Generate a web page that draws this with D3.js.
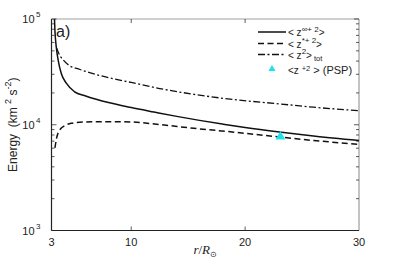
<!DOCTYPE html>
<html>
<head>
<meta charset="utf-8">
<script src="https://cdn.jsdelivr.net/npm/d3@7"></script>
<style>
  body { margin: 0; background: #fff; }
  svg text { font-family: "Liberation Sans", Arial, sans-serif; fill: #222; white-space: pre; }
</style>
</head>
<body>
<svg id="chart"></svg>
<script>
const width = 397;
const height = 266;
const margins = { left: 51.5, right: 38, top: 19, bottom: 35.5 };

// solid: <z∞+ 2>
const solidR = [3.22, 3.3, 3.42, 3.6, 3.86, 4.3, 5, 6, 7, 8, 10, 12, 14, 16, 18, 20, 23, 26, 30];
const solidE = [1.3e5, 7.8e4, 5.4e4, 4.0e4, 3.05e4, 2.47e4, 2.06e4, 1.87e4, 1.73e4, 1.62e4, 1.455e4, 1.32e4, 1.2e4, 1.1e4, 1.016e4, 9.42e3, 8.54e3, 7.83e3, 7.1e3];

// dashed: <z*+ 2>
const dashR = [3.3, 3.45, 3.72, 4.2, 4.73, 6, 8, 10, 12.5, 15.5, 17.7, 20, 23, 26, 30];
const dashE = [6.03e3, 7.5e3, 8.92e3, 9.84e3, 1.032e4, 1.062e4, 1.069e4, 1.062e4, 1.005e4, 9.25e3, 8.79e3, 8.3e3, 7.66e3, 7.1e3, 6.53e3];

// dash-dot: <z^2>_tot
const totR = [3.45, 3.7, 4.0, 4.44, 5.5, 6.5, 7.25, 8.1, 10, 12.5, 15.5, 19, 22.6, 26, 30];
const totE = [5.32e4, 4.57e4, 4.14e4, 3.71e4, 3.33e4, 3.08e4, 2.92e4, 2.77e4, 2.51e4, 2.2e4, 1.94e4, 1.73e4, 1.59e4, 1.466e4, 1.358e4];

// PSP point
const pspR = [23.1];
const pspE = [7.9e3];

const xTicks = [3, 10, 20, 30];
const yTicks = [1e3, 1e4, 1e5];

const svg = d3.select('#chart')
    .attr('width', width)
    .attr('height', height);

const x = d3.scaleLinear()
    .domain([3, 30])
    .range([margins.left, width - margins.right]);

const y = d3.scaleLog()
    .domain([1e3, 1e5])
    .range([height - margins.bottom, margins.top]);

svg.append('defs').append('clipPath')
    .attr('id', 'plot')
  .append('rect')
    .attr('x', margins.left)
    .attr('y', margins.top)
    .attr('width', width - margins.left - margins.right)
    .attr('height', height - margins.top - margins.bottom);

const x0 = margins.left, x1 = width - margins.right;
const y0 = height - margins.bottom, y1 = margins.top;

// frame: top and right in grey
svg.append('line').attr('x1', x0).attr('x2', x1).attr('y1', y1).attr('y2', y1)
    .attr('stroke', '#a0a0a0').attr('stroke-width', 1.2);
svg.append('line').attr('x1', x1).attr('x2', x1).attr('y1', y1).attr('y2', y0)
    .attr('stroke', '#888').attr('stroke-width', 1);

// minor log ticks
const minor = [];
for (const d of [1e3, 1e4]) for (let k = 2; k <= 9; k++) minor.push(d * k);

const ticks = svg.append('g').attr('stroke', '#333').attr('stroke-width', 0.8);
minor.forEach(v => {
  ticks.append('line').attr('x1', x0).attr('x2', x0 + 3).attr('y1', y(v)).attr('y2', y(v));
  ticks.append('line').attr('x1', x1).attr('x2', x1 - 3).attr('y1', y(v)).attr('y2', y(v));
});
yTicks.forEach(v => {
  ticks.append('line').attr('x1', x0).attr('x2', x0 + 5).attr('y1', y(v)).attr('y2', y(v));
  ticks.append('line').attr('x1', x1).attr('x2', x1 - 5).attr('y1', y(v)).attr('y2', y(v));
});
xTicks.slice(1, -1).forEach(v => {
  ticks.append('line').attr('x1', x(v)).attr('x2', x(v)).attr('y1', y0).attr('y2', y0 - 4);
  ticks.append('line').attr('x1', x(v)).attr('x2', x(v)).attr('y1', y1).attr('y2', y1 + 4);
});

// left and bottom axis lines
svg.append('line').attr('x1', x0).attr('x2', x0).attr('y1', y1).attr('y2', y0)
    .attr('stroke', '#222').attr('stroke-width', 1.2);
svg.append('line').attr('x1', x0).attr('x2', x1).attr('y1', y0).attr('y2', y0)
    .attr('stroke', '#222').attr('stroke-width', 1.2);

// tick labels
svg.append('g').selectAll('text').data(xTicks).join('text')
    .attr('x', d => x(d))
    .attr('y', y0 + 15)
    .attr('text-anchor', 'middle')
    .attr('font-size', 11)
    .text(d => d);

const yl = svg.append('g').selectAll('text').data(yTicks).join('text')
    .attr('x', x0 - 11)
    .attr('y', d => y(d) + 4)
    .attr('text-anchor', 'end')
    .attr('font-size', 11);
yl.append('tspan').text('10');
yl.append('tspan').attr('font-size', 8).attr('dx', 1.5).attr('dy', -6).text(d => Math.log10(d));

// axis titles
const ylab = svg.append('text')
    .attr('transform', `translate(17, ${(y0 + y1) / 2}) rotate(-90)`)
    .attr('text-anchor', 'middle')
    .attr('font-size', 12);
ylab.append('tspan').text('Energy  (km ');
ylab.append('tspan').attr('font-size', 9).attr('dy', -6).text('2');
ylab.append('tspan').attr('dy', 6).text(' s');
ylab.append('tspan').attr('font-size', 9).attr('dy', -6).text('-2');
ylab.append('tspan').attr('dy', 6).text(')');

const xlab = svg.append('text')
    .attr('x', (x0 + x1) / 2)
    .attr('y', 254)
    .attr('text-anchor', 'middle')
    .attr('font-style', 'italic')
    .attr('font-size', 13)
    .style('font-family', '"Liberation Serif", serif');
xlab.append('tspan').text('r');
xlab.append('tspan').attr('font-style', 'normal').text('/');
xlab.append('tspan').text('R');
xlab.append('tspan').attr('font-style', 'normal').attr('font-size', 8).attr('dy', 3).text('⊙');

// lines
const line = d3.line()
    .x(d => x(d[0]))
    .y(d => y(d[1]))
    .curve(d3.curveMonotoneX);

const plot = svg.append('g').attr('clip-path', 'url(#plot)');

plot.append('path')
    .datum(d3.zip(totR, totE))
    .attr('d', line)
    .attr('fill', 'none')
    .attr('stroke', '#111')
    .attr('stroke-width', 1.3)
    .attr('stroke-dasharray', '7,2.5,2,2.5');

plot.append('path')
    .datum(d3.zip(dashR, dashE))
    .attr('d', line)
    .attr('fill', 'none')
    .attr('stroke', '#111')
    .attr('stroke-width', 1.5)
    .attr('stroke-dasharray', '6,3.5');

plot.append('path')
    .datum(d3.zip(solidR, solidE))
    .attr('d', line)
    .attr('fill', 'none')
    .attr('stroke', '#111')
    .attr('stroke-width', 1.5);

const tri = d3.symbol().type(d3.symbolTriangle).size(42);
plot.selectAll('.psp').data(d3.zip(pspR, pspE)).join('path')
    .attr('class', 'psp')
    .attr('transform', d => `translate(${x(d[0])}, ${y(d[1]) + 1})`)
    .attr('d', tri)
    .attr('fill', '#22e0e8');

// panel label
svg.append('text')
    .attr('x', 56)
    .attr('y', 37)
    .attr('font-size', 16)
    .text('a)');

// legend
const lg = svg.append('g').attr('font-size', 10);
const lx = 258, lw = 28, tx = 288;
const rows = [
  { y: 32, dash: null, sup: '∞+ 2', sub: null, pre: '< z', post: '>' },
  { y: 43.5, dash: '6,3.5', sup: '*+ 2', sub: null, pre: '< z', post: '>' },
  { y: 54.5, dash: '7,2.5,2,2.5', sup: '2', sub: 'tot', pre: '< z', post: '>' }
];
rows.forEach(r => {
  lg.append('line')
      .attr('x1', lx).attr('x2', lx + lw)
      .attr('y1', r.y).attr('y2', r.y)
      .attr('stroke', '#111')
      .attr('stroke-width', r.dash && r.dash.length > 5 ? 1.3 : 1.5)
      .attr('stroke-dasharray', r.dash);
  const t = lg.append('text').attr('x', tx).attr('y', r.y + 4);
  t.append('tspan').text(r.pre);
  t.append('tspan').attr('font-size', 8).attr('dy', -4.5).text(r.sup);
  t.append('tspan').attr('dy', 4.5).text(r.post);
  if (r.sub) t.append('tspan').attr('font-size', 7.5).attr('dx', 2).attr('dy', 2.5).text(r.sub);
});
lg.append('path')
    .attr('transform', 'translate(272, 69)')
    .attr('d', d3.symbol().type(d3.symbolTriangle).size(22))
    .attr('fill', '#22e0e8');
const pt = lg.append('text').attr('x', tx).attr('y', 74);
pt.append('tspan').text('<z ');
pt.append('tspan').attr('font-size', 7.5).attr('dy', -3.5).text('+2');
pt.append('tspan').attr('dy', 3.5).attr('font-size', 11).text(' > (PSP)');
</script>
</body>
</html>
